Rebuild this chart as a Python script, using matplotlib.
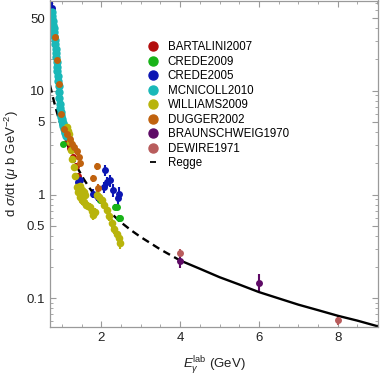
import numpy as np
import matplotlib
matplotlib.use("Agg")
import matplotlib.pyplot as plt
from matplotlib.ticker import MultipleLocator, FixedLocator, NullFormatter

plt.rcParams['font.family'] = ['Liberation Sans', 'DejaVu Sans']
plt.rcParams['mathtext.fontset'] = 'custom'
plt.rcParams['mathtext.rm'] = 'Liberation Sans'
plt.rcParams['mathtext.it'] = 'Liberation Sans:italic'

# data (E in GeV, dsigma/dt in mub GeV^-2)
bart_E = [1.12, 1.20, 1.28, 1.35, 1.42, 1.47, 1.50]
bart_y = [3.2, 2.8, 2.3, 1.9, 1.5, 1.05, 0.88]
bart_err = [0.2, 0.18, 0.15, 0.12, 0.1, 0.08, 0.07]

c09_E = [1.04, 1.97, 2.35, 2.40, 2.44, 2.48]
c09_y = [3.09, 0.88, 0.76, 0.76, 0.59, 0.59]
c09_err = [0.12, 0.05, 0.05, 0.05, 0.04, 0.04]

c05_E = [0.76, 1.42, 1.47, 1.80, 1.88, 1.93, 2.06, 2.10, 2.15, 2.23, 2.30, 2.42, 2.44]
c05_y = [62.0, 1.32, 1.37, 1.02, 0.96, 0.95, 1.18, 1.71, 1.32, 1.37, 1.10, 0.92, 1.02]
c05_err = [9.0, 0.1, 0.1, 0.1, 0.1, 0.1, 0.15, 0.2, 0.15, 0.18, 0.15, 0.12, 0.15]

mc_E = [0.75, 0.76, 0.77, 0.78, 0.79, 0.80, 0.81, 0.82, 0.83, 0.84, 0.85, 0.86, 0.87,
        0.88, 0.89, 0.90, 0.91, 0.92, 0.93, 0.94, 0.95, 0.96, 0.97, 0.98, 0.99, 1.00,
        1.01, 1.02, 1.03, 1.04, 1.05, 1.06, 1.07, 1.08, 1.09, 1.10, 1.11]
mc_y = [57.0, 52.0, 47.0, 43.0, 40.0, 37.0, 34.0, 31.0, 28.0, 25.0, 23.0, 21.0, 19.0,
        17.0, 15.5, 14.0, 12.5, 11.0, 9.8, 8.6, 7.5, 6.8, 6.2, 5.9, 5.6, 5.3,
        5.1, 4.9, 4.8, 4.6, 4.5, 4.3, 4.2, 4.0, 3.9, 3.8, 3.7]
mc_err = [4.0, 3.8, 3.5, 3.2, 3.0, 2.8, 2.6, 2.3, 2.0, 1.8, 1.7, 1.5, 1.4,
          1.3, 1.1, 1.0, 0.9, 0.8, 0.7, 0.6, 0.55, 0.5, 0.45, 0.45, 0.45, 0.4,
          0.4, 0.4, 0.4, 0.35, 0.35, 0.35, 0.35, 0.3, 0.3, 0.3, 0.3]

wil_E = [1.13, 1.15, 1.17, 1.20, 1.23, 1.26, 1.30, 1.34, 1.38, 1.42, 1.45, 1.47, 1.50,
         1.51, 1.55, 1.56, 1.60, 1.62, 1.67, 1.72, 1.76, 1.80, 1.84, 1.90, 1.95, 2.02,
         2.08, 2.15, 2.20, 2.27, 2.33, 2.40, 2.44, 2.48]
wil_y = [4.46, 4.1, 3.8, 3.2, 2.7, 2.2, 1.84, 1.5, 1.18, 1.05, 1.2, 0.95, 1.1,
         0.88, 1.05, 0.84, 1.0, 0.80, 0.78, 0.76, 0.70, 0.63, 0.68, 1.0, 0.95, 0.88,
         0.80, 0.71, 0.62, 0.53, 0.47, 0.42, 0.38, 0.34]
wil_err = [0.35, 0.3, 0.3, 0.25, 0.22, 0.18, 0.15, 0.12, 0.1, 0.09, 0.1, 0.08, 0.09,
           0.08, 0.09, 0.07, 0.08, 0.07, 0.07, 0.07, 0.06, 0.06, 0.06, 0.08, 0.08, 0.07,
           0.07, 0.06, 0.06, 0.05, 0.05, 0.05, 0.04, 0.04]

dug_E = [0.83, 0.89, 0.93, 0.97, 1.05, 1.12, 1.20, 1.27, 1.32, 1.38, 1.43, 1.47, 1.80, 1.89, 1.93]
dug_y = [33.0, 19.6, 11.7, 6.0, 4.3, 3.8, 3.4, 3.1, 2.9, 2.6, 2.3, 2.0, 1.43, 1.88, 1.16]
dug_err = [1.5, 1.0, 0.6, 0.3, 0.25, 0.25, 0.22, 0.2, 0.2, 0.18, 0.16, 0.15, 0.12, 0.15, 0.1]

brau_E = [4.0, 6.0]
brau_y = [0.23, 0.141]
brau_err = [0.033, 0.029]

dew_E = [4.0, 8.0]
dew_y = [0.274, 0.062]
dew_err = [0.025, 0.007]

regge_E = [0.7, 0.8, 0.9, 1.0, 1.1, 1.2, 1.3, 1.4, 1.55, 1.7, 1.85, 2.0, 2.25, 2.5, 2.75,
           3.0, 3.25, 3.5, 3.75, 4.0, 4.5, 5.0, 5.5, 6.0, 6.5, 7.0, 7.5, 8.0, 8.5, 9.0]
regge_y = [11.3, 7.9, 5.75, 4.34, 3.37, 2.67, 2.16, 1.80, 1.42, 1.16, 0.97, 0.83, 0.66,
           0.54, 0.455, 0.39, 0.34, 0.296, 0.262, 0.232, 0.193, 0.160, 0.136, 0.115,
           0.100, 0.087, 0.077, 0.068, 0.061, 0.054]

series = [
    ("BARTALINI2007", bart_E, bart_y, bart_err, "#b30d0d", 5.0),
    ("CREDE2009", c09_E, c09_y, c09_err, "#18b318", 5.0),
    ("CREDE2005", c05_E, c05_y, c05_err, "#0c16b3", 5.0),
    ("MCNICOLL2010", mc_E, mc_y, mc_err, "#1ab8b8", 6.0),
    ("WILLIAMS2009", wil_E, wil_y, wil_err, "#b8b40c", 5.5),
    ("DUGGER2002", dug_E, dug_y, dug_err, "#c0620e", 5.0),
    ("BRAUNSCHWEIG1970", brau_E, brau_y, brau_err, "#5e0a66", 5.0),
    ("DEWIRE1971", dew_E, dew_y, dew_err, "#b85c5c", 5.0),
]

fig = plt.figure(figsize=(3.82, 3.76), dpi=100)
ax = fig.add_axes([50/382, 49/376, 328/382, 326.5/376])

handles = []
for name, E, y, err, col, ms in series:
    ax.errorbar(E, y, yerr=err, fmt='o', color=col, ms=ms, elinewidth=1.5,
                capsize=2.8, capthick=1.5, mew=0)
    h, = ax.plot([], [], 'o', color=col, ms=6.5, label=name)
    handles.append(h)

regge_E = np.array(regge_E)
regge_y = np.array(regge_y)
lo = regge_E <= 4.0
hi = regge_E >= 4.0
ax.plot(regge_E[lo], regge_y[lo], color='black', lw=1.7, ls=(0, (3.2, 2.0)))
ax.plot(regge_E[hi], regge_y[hi], color='black', lw=1.7)
h, = ax.plot([], [], ls='none', marker='_', ms=5, mew=1.3, color='black', label='Regge')
handles.append(h)

ax.set_yscale('log')
ax.set_xlim(0.7, 9.02)
ax.set_ylim(0.053, 74)
ax.xaxis.set_major_locator(FixedLocator([2, 4, 6, 8]))
ax.xaxis.set_minor_locator(MultipleLocator(0.5))
ax.yaxis.set_major_locator(FixedLocator([0.1, 0.5, 1, 5, 10, 50]))
ax.yaxis.set_major_formatter(plt.FuncFormatter(lambda v, p: ('%g' % v)))
ax.yaxis.set_minor_locator(FixedLocator(
    [k * 10.0**d for d in range(-2, 2) for k in range(1, 10)]))
ax.yaxis.set_minor_formatter(NullFormatter())

for s in ax.spines.values():
    s.set_color('#9a9a9a')
    s.set_linewidth(0.9)
ax.tick_params(which='both', direction='in', top=True, right=True, colors='#9a9a9a',
               labelcolor='#222222', labelsize=9.5)
ax.tick_params(which='major', length=4.5, width=0.8)
ax.tick_params(which='minor', length=2.5, width=0.6)

ax.set_xlabel(r'$E_\gamma^{\rm lab}$ (GeV)', fontsize=9.5, color='#222222', labelpad=7)
ax.set_ylabel(r'd $\sigma$/dt ($\mu$ b GeV$^{-2}$)', fontsize=9.5, color='#222222', labelpad=4)

ax.legend(handles=handles, loc='upper left', bbox_to_anchor=(148/382, 1 - 41/376),
          bbox_transform=fig.transFigure, frameon=False, fontsize=8.3,
          handlelength=0.8, handletextpad=0.9, labelspacing=0.22, borderpad=0,
          borderaxespad=0)

fig.savefig('out.png', dpi=100)
